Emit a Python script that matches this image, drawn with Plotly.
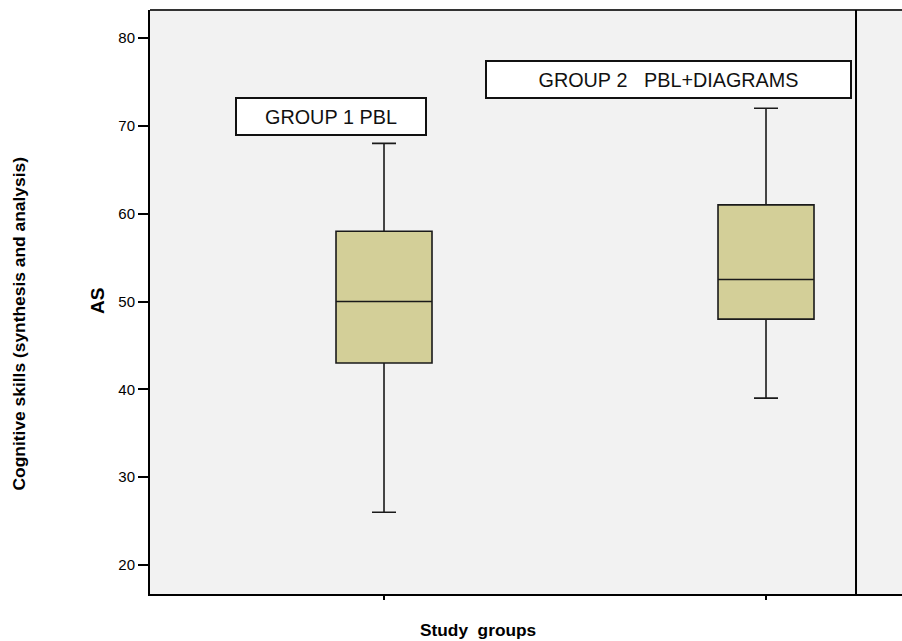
import plotly.graph_objects as go

# ---- data ----
groups = ["GROUP 1 PBL", "GROUP 2   PBL+DIAGRAMS"]
lower_whisker = [26, 39]
q1_values = [43, 48]
medians = [50, 52.5]
q3_values = [58, 61]
upper_whisker = [68, 72]
y_ticks = [20, 30, 40, 50, 60, 70, 80]
x_title = "Study  groups"
y_title = "AS"
y_outer_title = "Cognitive skills (synthesis and analysis)"

FONT = "Liberation Sans, Arial, sans-serif"

fig = go.Figure()
fig.add_trace(go.Box(
    x=groups,
    q1=q1_values,
    median=medians,
    q3=q3_values,
    lowerfence=lower_whisker,
    upperfence=upper_whisker,
    width=0.2513,
    whiskerwidth=0.25,
    fillcolor="#d3cf98",
    line=dict(color="#1a1a1a", width=1.6),
    boxpoints=False,
    hoverinfo="skip",
    showlegend=False,
))

fig.update_layout(
    width=902, height=641,
    margin=dict(l=150, r=0, t=10, b=47),
    paper_bgcolor="white",
    plot_bgcolor="#f2f2f2",
    font=dict(family=FONT, color="black"),
    showlegend=False,
)

fig.update_xaxes(
    type="category",
    categoryorder="array", categoryarray=groups,
    range=[-0.6126, 1.356],
    showgrid=False, zeroline=False,
    showline=True, linecolor="black", linewidth=2,
    ticks="outside", ticklen=4, tickwidth=2, tickcolor="black",
    showticklabels=False,
)
fig.update_yaxes(
    range=[16.70, 83.19],
    tickvals=y_ticks,
    showgrid=False, zeroline=False,
    showline=True, linecolor="black", linewidth=2,
    ticks="outside", ticklen=10, tickwidth=2, tickcolor="black",
    tickfont=dict(size=15, family=FONT, color="black"),
)

# top frame line and the right divider line
fig.add_shape(type="line", xref="paper", yref="paper", x0=0, x1=1, y0=1, y1=1,
              line=dict(color="#333333", width=2))
fig.add_shape(type="line", xref="x", yref="paper", x0=1.2356, x1=1.2356, y0=0, y1=1,
              line=dict(color="black", width=2))

# group label boxes
label_pos = [(-0.1387, 71.06, 188), (0.7448, 75.28, 363)]
for (lx, ly, w), txt in zip(label_pos, groups):
    fig.add_annotation(
        x=lx, y=ly, xref="x", yref="y",
        text=txt.replace(" ", "\u00a0"), showarrow=False,
        font=dict(size=19.8, family=FONT, color="#111111"),
        bgcolor="white", bordercolor="#111111", borderwidth=2, borderpad=0,
        width=w, height=35, align="center", valign="middle",
        xanchor="center", yanchor="middle",
    )

# axis titles (paper coords relative to the 752x584 plot area)
fig.add_annotation(x=-0.0705, y=0.5017, xref="paper", yref="paper",
                   xanchor="center", yanchor="middle",
                   text="<b>" + y_title + "</b>", textangle=-90, showarrow=False,
                   font=dict(size=19, family=FONT, color="black"))
fig.add_annotation(x=-0.1729, y=0.4632, xref="paper", yref="paper",
                   xanchor="center", yanchor="middle",
                   text="<b>" + y_outer_title + "</b>", textangle=-90, showarrow=False,
                   font=dict(size=17.4, family=FONT, color="black"))
fig.add_annotation(x=0.4362, y=-0.0616, xref="paper", yref="paper",
                   xanchor="center", yanchor="middle",
                   text="<b>" + x_title.replace(" ", "\u00a0") + "</b>", showarrow=False,
                   font=dict(size=17.3, family=FONT, color="black"))

# remove the default page margin so the figure fills the 902x641 window exactly
fig.write_html(
    "out.html",
    config={"displayModeBar": False},
    post_script="document.body.style.margin='0';"
                "document.documentElement.style.overflow='hidden';",
)
